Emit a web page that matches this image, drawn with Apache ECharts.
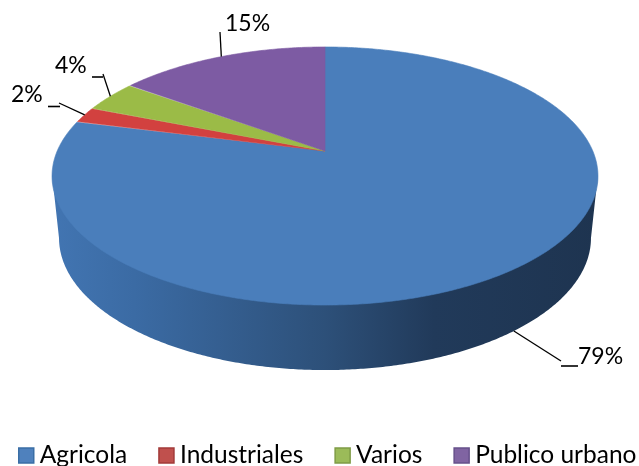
<!DOCTYPE html>
<html><head><meta charset="utf-8">
<style>html,body{margin:0;padding:0;background:#fff}#c{width:639px;height:466px}</style>
<script src="https://cdn.jsdelivr.net/npm/echarts@6/dist/echarts.min.js"></script>
</head><body><div id="c"></div>
<script>
const categories = ['Agricola', 'Industriales', 'Varios', 'Publico urbano'];
const values = [79, 2, 4, 15];
const colors = ['#4a7ebb', '#d2413f', '#9bbb47', '#7d5ba3'];
const legendColors = ['#4f81bd', '#c0504d', '#9bbb59', '#8064a2'];
const legendBorders = ['#3a6ea5', '#a23a38', '#7f9c46', '#66508a'];
const sideStops = [[0, '#4275b2'], [0.15, '#3b6ba4'], [0.5, '#2d5079'], [0.7, '#213a5a'], [1, '#1e3450']];

// Perspective disc geometry
const APEX_X = 325, APEX_Y = 151, P = 0.1938, RX = 267.8, RY = 124.2;
const TOP_CY = 176, BOT_CY = 238, BOT_SX = 266 / 273, BOT_SY = 132 / 129;
// Label layout: text position, elbow, stub end
const labelLayout = [
  {tx: 578, ty: 357, elbow: [561, 361], stub: [[561, 366], [578, 366]], bottom: true},
  {tx: 11, ty: 95, elbow: [59, 103], stub: [[48, 106.5], [60, 106.5]]},
  {tx: 55, ty: 66, elbow: [103, 74], stub: [[92, 77], [103, 77]]},
  {tx: 225, ty: 24, elbow: [220, 32], stub: null}
];
const total = values.reduce((a, b) => a + b, 0);
const FONT = 'Lato';

function rim(deg) {
  const t = deg * Math.PI / 180, u = Math.sin(t), v = Math.cos(t), w = 1 + P * v;
  return [APEX_X + RX * u / w, APEX_Y - RY * v / w];
}
function lower(p) {
  return [APEX_X + (p[0] - APEX_X) * BOT_SX, BOT_CY + (p[1] - TOP_CY) * BOT_SY];
}
const SIDE_FROM = Math.acos(-P) * 180 / Math.PI, SIDE_TO = 360 - SIDE_FROM;

function makeItem(idx) {
  return function (params, api) {
    const val = api.value(0);
    let before = 0;
    for (let i = 0; i < idx; i++) before += values[i];
    const a0 = before / total * 360, a1 = (before + val) / total * 360;
    const children = [];
    const from = Math.max(a0, SIDE_FROM), to = Math.min(a1, SIDE_TO);
    if (to > from) {
      const up = [], low = [];
      for (let a = from; a <= to + 1e-6; a += 0.5) { const p = rim(a); up.push([p[0], p[1] - 2]); low.unshift(lower(p)); }
      children.push({type: 'polygon', shape: {points: up.concat(low)},
        style: {fill: new echarts.graphic.LinearGradient(0, 0, 1, 0, sideStops.map(s => ({offset: s[0], color: s[1]})))}});
    }
    const pts = [[APEX_X, APEX_Y]];
    for (let a = a0; a <= a1 + 1e-6; a += 0.5) pts.push(rim(a));
    children.push({type: 'polygon', shape: {points: pts}, style: {fill: colors[idx], stroke: colors[idx], lineWidth: 0.6}});
    const L = labelLayout[idx], mid = (a0 + a1) / 2;
    const anchor = L.bottom ? lower(rim(mid)) : rim(mid);
    children.push({type: 'polyline', shape: {points: [anchor, L.elbow]}, style: {stroke: '#000', lineWidth: 1.3, fill: null}, z2: 5});
    if (L.stub) children.push({type: 'polyline', shape: {points: L.stub}, style: {stroke: '#000', lineWidth: 1.6, fill: null}, z2: 5});
    children.push({type: 'text', x: L.tx, y: L.ty, z2: 5,
      style: {text: Math.round(val / total * 100) + '%', fontFamily: FONT, fontSize: 23, fill: '#000', align: 'left', verticalAlign: 'middle'}});
    return {type: 'group', children};
  };
}

const chart = echarts.init(document.getElementById('c'), null, {renderer: 'canvas'});
chart.setOption({
  animation: false,
  backgroundColor: '#fff',
  legend: {
    left: 18, top: 443, width: 621, itemWidth: 15, itemHeight: 15, itemGap: 31, icon: 'rect', selectedMode: false, padding: 0,
    textStyle: {fontFamily: FONT, fontSize: 24.5, color: '#000', padding: [0, 0, 0, 1]},
    data: categories.map((c, i) => ({name: c, itemStyle: {color: legendColors[i], borderColor: legendBorders[i], borderWidth: 1.5}}))
  },
  series: categories.map((c, i) => ({
    type: 'custom', name: c, coordinateSystem: 'none', silent: true, clip: false,
    itemStyle: {color: legendColors[i]},
    renderItem: makeItem(i),
    data: [[values[i]]]
  }))
});
</script></body></html>
